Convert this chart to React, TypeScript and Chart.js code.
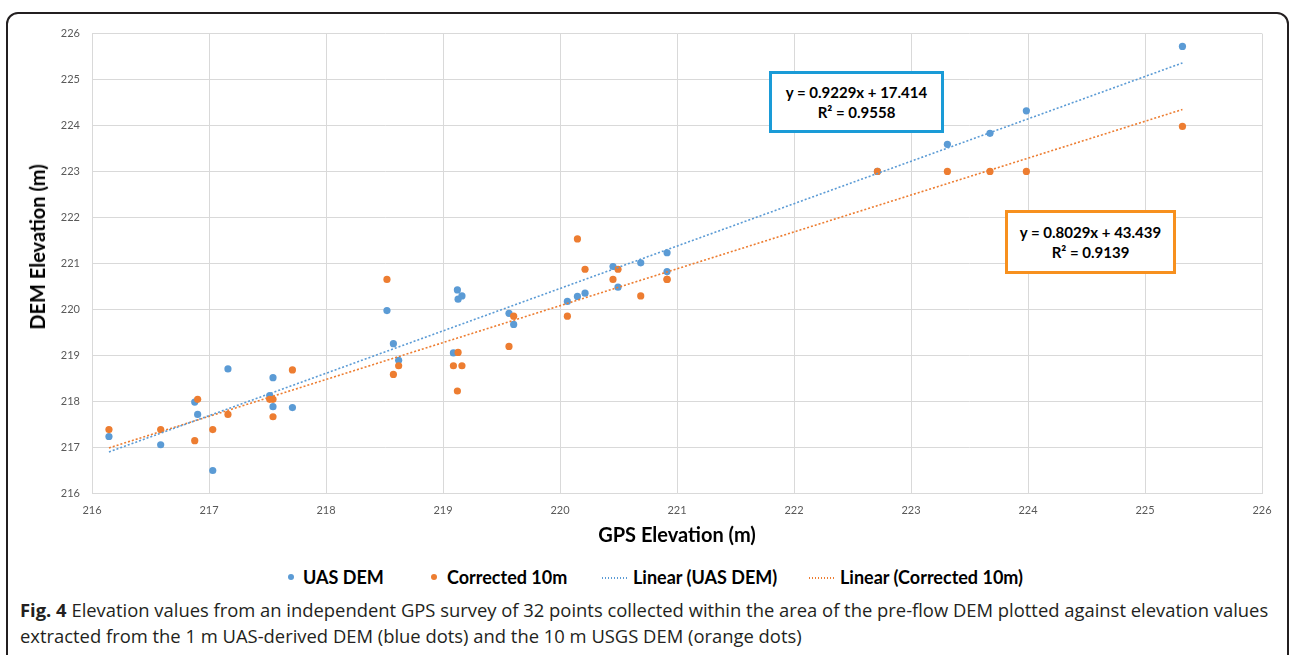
import React, { useEffect, useRef } from "react";
import { Chart, registerables } from "chart.js";

Chart.register(...registerables);

// GPS elevation (x) of the 32 survey points
const gpsElevation = [
  216.145, 216.587, 216.878, 216.903, 217.032, 217.162, 217.519, 217.547,
  217.547, 217.713, 218.521, 218.576, 218.621, 219.089, 219.123, 219.129,
  219.162, 219.564, 219.604, 220.063, 220.149, 220.214, 220.453, 220.496,
  220.69, 220.915, 220.915, 222.713, 223.311, 223.675, 223.986, 225.32,
];
// UAS DEM elevation (blue)
const uasDem = [
  217.23, 217.05, 217.98, 217.71, 216.49, 218.7, 218.12, 218.51,
  217.88, 217.86, 219.97, 219.25, 218.89, 219.05, 220.42, 220.22,
  220.29, 219.91, 219.67, 220.17, 220.28, 220.35, 220.93, 220.48,
  221.01, 221.23, 220.82, 223.0, 223.59, 223.83, 224.32, 225.72,
];
// Corrected 10m DEM elevation (orange)
const corrected10m = [
  217.38, 217.38, 217.14, 218.04, 217.38, 217.71, 218.04, 218.04,
  217.66, 218.68, 220.65, 218.58, 218.77, 218.77, 218.22, 219.06,
  218.77, 219.19, 219.85, 219.85, 221.53, 220.87, 220.65, 220.87,
  220.29, 220.65, 220.65, 223.0, 223.0, 223.0, 223.0, 223.98,
];
// Linear trendline coefficients as printed on the chart: [slope, intercept]
const uasTrend = [0.9229, 17.414];
const correctedTrend = [0.8029, 43.439];
const uasLabel = ["y = 0.9229x + 17.414", "R² = 0.9558"];
const correctedLabel = ["y = 0.8029x + 43.439", "R² = 0.9139"];
// Axis range
const axisRange = [216, 226];

const BLUE = "#5b9bd5";
const ORANGE = "#ed7d31";
const GRID = "#d9d9d9";
const TICK = "#595959";
const FONT = "Lato, 'Open Sans', sans-serif";

function trendPoints(coef: number[]) {
  const lo = Math.min(...gpsElevation);
  const hi = Math.max(...gpsElevation);
  return [
    { x: lo, y: coef[0] * lo + coef[1] },
    { x: hi, y: coef[0] * hi + coef[1] },
  ];
}

export default function App() {
  const ref = useRef<HTMLCanvasElement | null>(null);

  useEffect(() => {
    if (!ref.current) return;
    const chart = new Chart(ref.current, {
      type: "scatter",
      data: {
        datasets: [
          {
            label: "Linear (UAS DEM)",
            data: trendPoints(uasTrend),
            showLine: true,
            borderColor: BLUE,
            borderWidth: 1.6,
            borderDash: [2, 2],
            pointRadius: 0,
            order: 0,
          },
          {
            label: "Linear (Corrected 10m)",
            data: trendPoints(correctedTrend),
            showLine: true,
            borderColor: ORANGE,
            borderWidth: 1.6,
            borderDash: [2, 2],
            pointRadius: 0,
            order: 0,
          },
          {
            label: "Corrected 10m",
            data: gpsElevation.map((x, i) => ({ x, y: corrected10m[i] })),
            backgroundColor: ORANGE,
            borderColor: ORANGE,
            pointRadius: 3.6,
            borderWidth: 0,
            order: 1,
          },
          {
            label: "UAS DEM",
            data: gpsElevation.map((x, i) => ({ x, y: uasDem[i] })),
            backgroundColor: BLUE,
            borderColor: BLUE,
            pointRadius: 3.6,
            borderWidth: 0,
            order: 2,
          },
        ],
      },
      options: {
        animation: false,
        responsive: false,
        devicePixelRatio: 1,
        layout: { padding: { left: 0, top: 8, right: 22, bottom: 0 } },
        plugins: {
          legend: { display: false },
          tooltip: { enabled: false },
          title: { display: false },
        },
        scales: {
          x: {
            type: "linear",
            min: axisRange[0],
            max: axisRange[1],
            ticks: {
              stepSize: 1,
              color: TICK,
              padding: 11,
              font: { family: FONT, size: 11 },
            },
            grid: { color: GRID, drawTicks: false, lineWidth: 1 },
            border: { color: GRID },
            title: {
              display: true,
              text: "GPS Elevation (m)",
              color: "#000",
              font: { family: FONT, size: 20, weight: "bold" },
              padding: { top: 0, bottom: 5 },
            },
            afterFit: (s: any) => {
              s.height = 60;
            },
          },
          y: {
            type: "linear",
            min: axisRange[0],
            max: axisRange[1],
            ticks: {
              stepSize: 1,
              color: TICK,
              padding: 12,
              font: { family: FONT, size: 11 },
            },
            grid: { color: GRID, drawTicks: false, lineWidth: 1 },
            border: { color: GRID },
            afterFit: (s: any) => {
              s.width = 78;
            },
          },
        },
      },
    });
    return () => chart.destroy();
  }, []);

  const boxText: React.CSSProperties = {
    fontFamily: FONT,
    fontWeight: 700,
    fontSize: 15,
    lineHeight: "20px",
    color: "#000",
    textAlign: "center",
    whiteSpace: "nowrap",
  };
  const legendText: React.CSSProperties = {
    position: "absolute",
    top: 565,
    fontFamily: FONT,
    fontWeight: 700,
    fontSize: 18,
    lineHeight: "24px",
    color: "#000",
    whiteSpace: "nowrap",
  };
  const dot = (left: number, color: string): React.CSSProperties => ({
    position: "absolute",
    left: left - 3,
    top: 574,
    width: 6,
    height: 6,
    borderRadius: 3,
    background: color,
  });
  const dash = (left: number, width: number, color: string): React.CSSProperties => ({
    position: "absolute",
    left,
    top: 577,
    width,
    height: 1.5,
    backgroundImage: `repeating-linear-gradient(to right, ${color} 0 1.5px, transparent 1.5px 3px)`,
  });

  return (
    <div
      style={{
        position: "fixed",
        left: 0,
        top: 0,
        width: 1292,
        height: 655,
        overflow: "hidden",
        background: "#fff",
      }}
    >
      <div
        style={{
          position: "absolute",
          left: 6,
          top: 12,
          width: 1283,
          height: 720,
          border: "2px solid #231f20",
          borderRadius: 12,
          boxSizing: "border-box",
        }}
      />
      <canvas
        ref={ref}
        width={1270}
        height={538}
        style={{ position: "absolute", left: 14, top: 15, width: 1270, height: 538 }}
      />
      <div
        style={{
          position: "absolute",
          left: 37,
          top: 247,
          transform: "translate(-50%, -50%) rotate(-90deg)",
          fontFamily: FONT,
          fontWeight: 700,
          fontSize: 20,
          color: "#000",
          whiteSpace: "nowrap",
        }}
      >
        DEM Elevation (m)
      </div>
      <div
        style={{
          position: "absolute",
          left: 769,
          top: 71,
          width: 175,
          height: 62,
          border: "3px solid #1a9bd7",
          background: "#fff",
          boxSizing: "border-box",
          display: "flex",
          flexDirection: "column",
          justifyContent: "center",
          alignItems: "center",
        }}
      >
        <div style={boxText}>{uasLabel[0]}</div>
        <div style={boxText}>{uasLabel[1]}</div>
      </div>
      <div
        style={{
          position: "absolute",
          left: 1005,
          top: 210,
          width: 171,
          height: 64,
          border: "3px solid #f7901e",
          background: "#fff",
          boxSizing: "border-box",
          display: "flex",
          flexDirection: "column",
          justifyContent: "center",
          alignItems: "center",
        }}
      >
        <div style={boxText}>{correctedLabel[0]}</div>
        <div style={boxText}>{correctedLabel[1]}</div>
      </div>

      <div style={dot(291, BLUE)} />
      <div style={{ ...legendText, left: 303 }}>UAS DEM</div>
      <div style={dot(434, ORANGE)} />
      <div style={{ ...legendText, left: 447 }}>Corrected 10m</div>
      <div style={dash(602, 27, BLUE)} />
      <div style={{ ...legendText, left: 633 }}>Linear (UAS DEM)</div>
      <div style={dash(809, 27, ORANGE)} />
      <div style={{ ...legendText, left: 840 }}>Linear (Corrected 10m)</div>

      <div
        style={{
          position: "absolute",
          left: 20,
          top: 597,
          fontFamily: "'Open Sans', sans-serif",
          fontSize: 18.4,
          lineHeight: "26px",
          color: "#231f20",
          whiteSpace: "pre",
        }}
      >
        <b>Fig. 4</b>
        {" Elevation values from an independent GPS survey of 32 points collected within the area of the pre-flow DEM plotted against elevation values\nextracted from the 1 m UAS-derived DEM (blue dots) and the 10 m USGS DEM (orange dots)"}
      </div>
    </div>
  );
}
